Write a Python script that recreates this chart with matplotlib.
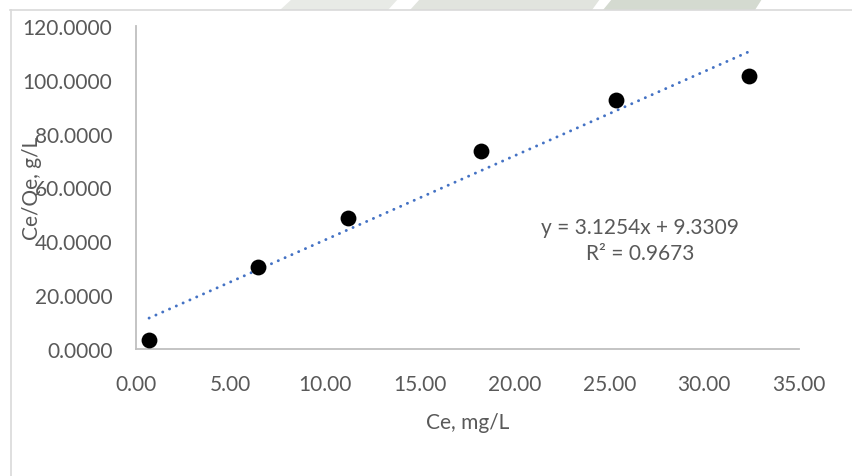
import matplotlib
matplotlib.use("Agg")
import matplotlib.pyplot as plt
from matplotlib.lines import Line2D
from matplotlib.patches import Polygon
import numpy as np

plt.rcParams["font.family"] = ["Lato", "DejaVu Sans"]

# data
ce = [0.69, 6.42, 11.21, 18.21, 25.33, 32.37]
ce_qe = [3.46, 30.6, 48.8, 73.7, 92.6, 101.6]
slope, intercept, r2 = 3.1254, 9.3309, 0.9673
x_ticks = [0, 5, 10, 15, 20, 25, 30, 35]
y_ticks = [0, 20, 40, 60, 80, 100, 120]

W, H = 853, 477
GREY_TXT = "#595959"
GREY_LN = "#BFBFBF"
BLUE = "#4472C4"

fig = plt.figure(figsize=(W / 100, H / 100), dpi=100)


def px(x, y):
    return (x / W, 1 - y / H)


# faint watermark from the page behind the chart
for pts, col in [
    ([(280, 11), (292, 0), (398, 0), (388, 11)], "#E8EAE6"),
    ([(410, 11), (420, 0), (600, 0), (592, 11)], "#E1E4DE"),
    ([(603, 11), (612, 0), (762, 0), (755, 11)], "#D4DAD0"),
]:
    fig.patches.append(Polygon([px(*p) for p in pts], closed=True,
                               transform=fig.transFigure, color=col, lw=0))

# chart frame (top + left edges visible)
fig.lines.append(Line2D([px(10, 11)[0], 1], [px(10, 11)[1]] * 2,
                        transform=fig.transFigure, color="#D9D9D9", lw=1.2))
fig.lines.append(Line2D([px(11, 11)[0]] * 2, [px(11, 11)[1], 0],
                        transform=fig.transFigure, color="#D9D9D9", lw=1.2))

ax = fig.add_axes([136 / W, 1 - 350 / H, (799 - 136) / W, (350 - 27) / H])
ax.set_facecolor("none")

xl = np.array([min(ce), max(ce)])
ax.plot(xl, slope * xl + intercept, color=BLUE, lw=2.1,
        linestyle=(0, (0.05, 2.5)), dash_capstyle="round", zorder=3)
ax.scatter(ce, ce_qe, s=130, color="black", zorder=4, linewidths=0)

ax.set_xlim(0, 35)
ax.set_ylim(0, 120)
ax.set_xticks(x_ticks)
ax.set_yticks(y_ticks)
ax.set_xticklabels([f"{v:.2f}" for v in x_ticks])
ax.set_yticklabels([f"{v:.4f}" for v in y_ticks])
ax.tick_params(length=0, labelsize=15, colors=GREY_TXT)
ax.tick_params(axis="x", pad=18)
ax.tick_params(axis="y", pad=17)
for s in ["top", "right"]:
    ax.spines[s].set_visible(False)
for s in ["left", "bottom"]:
    ax.spines[s].set_color(GREY_LN)
    ax.spines[s].set_linewidth(1.3)

ax.text(26.6, 40.5, f"y = {slope}x + {intercept}\nR² = {r2}",
        ha="center", va="center", fontsize=15, color=GREY_TXT, linespacing=1.35)

fig.text(*px(467.5, 423), "Ce, mg/L", ha="center", va="center",
         fontsize=15, color=GREY_TXT)
fig.text(*px(32, 188), "Ce/Qe, g/L", ha="center", va="center", rotation=90,
         fontsize=15, color=GREY_TXT)

fig.savefig("out.png", dpi=100)
